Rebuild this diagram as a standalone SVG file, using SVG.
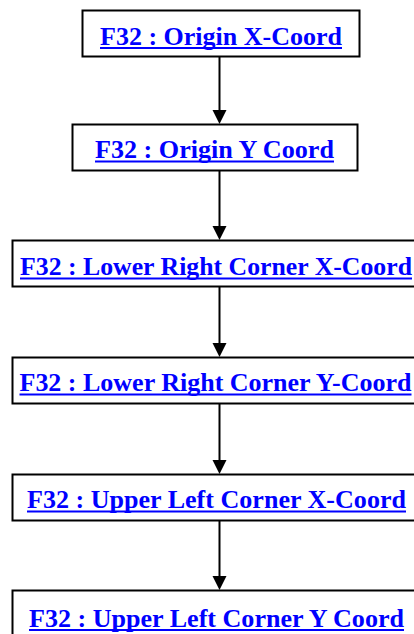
<svg xmlns="http://www.w3.org/2000/svg" width="414" height="634" viewBox="0 0 414 634">
<style>
.box{fill:#fff;stroke:#000;stroke-width:2}
.lbl{font-family:"Liberation Serif","Times New Roman",serif;font-weight:bold;font-size:26px;fill:#0000ff}
.ul{fill:#0000ff}
.ln{stroke:#000;stroke-width:2;fill:none}
.ah{fill:#000}
</style>
<rect width="414" height="634" fill="#fff"/>
<g id="connectors">
<line class="ln" x1="219.5" y1="57" x2="219.5" y2="112"/><polygon class="ah" points="212.5,110 226.5,110 219.5,124"/>
<line class="ln" x1="219.5" y1="170" x2="219.5" y2="228"/><polygon class="ah" points="212.5,226 226.5,226 219.5,240"/>
<line class="ln" x1="219.5" y1="287" x2="219.5" y2="345"/><polygon class="ah" points="212.5,343 226.5,343 219.5,357"/>
<line class="ln" x1="219.5" y1="403" x2="219.5" y2="462"/><polygon class="ah" points="212.5,460 226.5,460 219.5,474"/>
<line class="ln" x1="219.5" y1="520" x2="219.5" y2="578"/><polygon class="ah" points="212.5,576 226.5,576 219.5,590"/>
</g>
<g id="n1"><rect class="box" x="82.5" y="10.5" width="277" height="46"/><text class="lbl" x="100" y="44.5" textLength="242" lengthAdjust="spacingAndGlyphs">F32 : Origin X-Coord</text><rect class="ul" x="100" y="47" width="242" height="2"/></g>
<g id="n2"><rect class="box" x="72.5" y="124.5" width="285" height="46"/><text class="lbl" x="95" y="158" textLength="239" lengthAdjust="spacingAndGlyphs">F32 : Origin Y Coord</text><rect class="ul" x="95" y="160.5" width="239" height="2"/></g>
<g id="n3"><rect class="box" x="12.5" y="240.5" width="414" height="46"/><text class="lbl" x="20" y="275" textLength="392" lengthAdjust="spacingAndGlyphs">F32 : Lower Right Corner X-Coord</text><rect class="ul" x="20" y="277.5" width="392" height="2"/></g>
<g id="n4"><rect class="box" x="12.5" y="357.5" width="414" height="46"/><text class="lbl" x="19.5" y="391" textLength="392" lengthAdjust="spacingAndGlyphs">F32 : Lower Right Corner Y-Coord</text><rect class="ul" x="19.5" y="393.5" width="392" height="2"/></g>
<g id="n5"><rect class="box" x="12.5" y="474.5" width="414" height="46"/><text class="lbl" x="27" y="508" textLength="379" lengthAdjust="spacingAndGlyphs">F32 : Upper Left Corner X-Coord</text><rect class="ul" x="27" y="510.5" width="379" height="2"/></g>
<g id="n6"><rect class="box" x="12.5" y="590.5" width="414" height="46"/><text class="lbl" x="29" y="626.5" textLength="375" lengthAdjust="spacingAndGlyphs">F32 : Upper Left Corner Y Coord</text><rect class="ul" x="29" y="629" width="375" height="2"/></g>
</svg>
